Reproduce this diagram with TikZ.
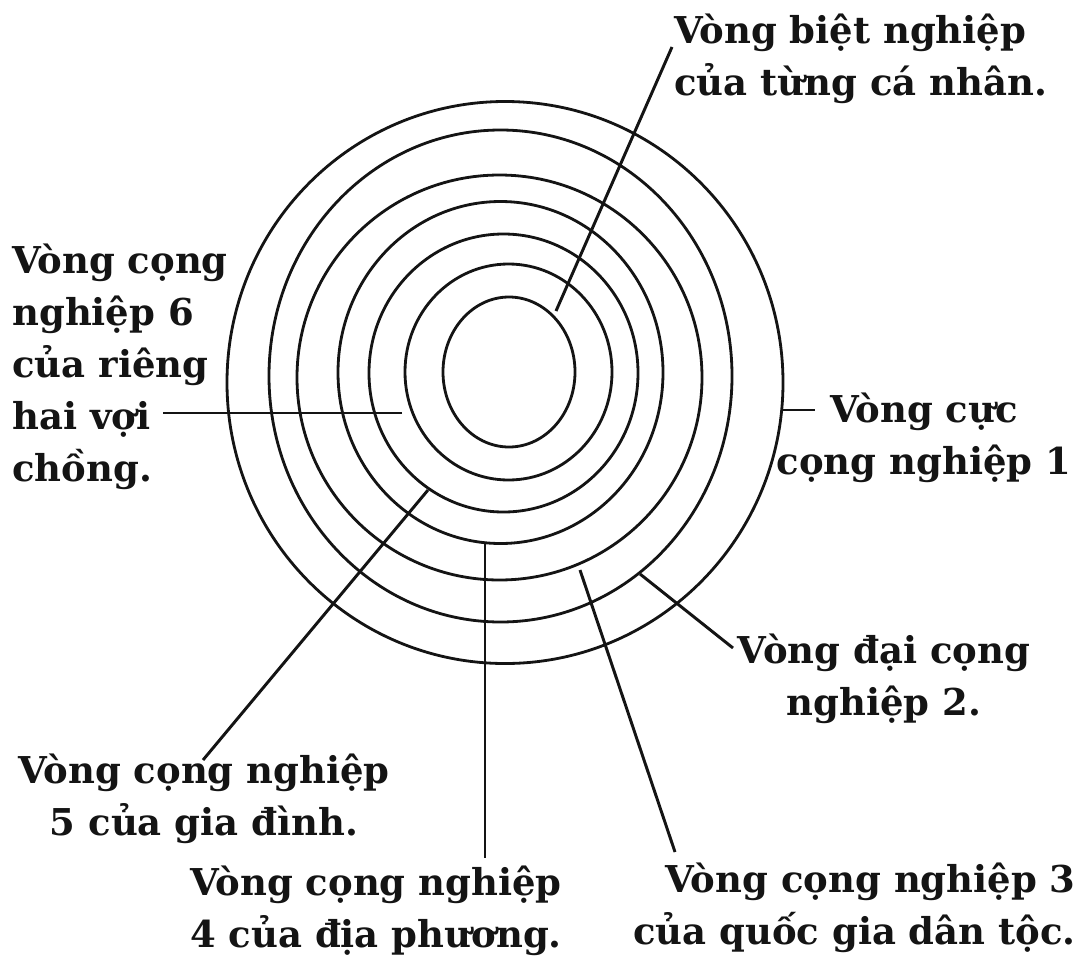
\documentclass[tikz,border=0pt]{standalone}
\usepackage{fontspec}
\usepackage{xcolor}
\usepackage{tikz}
\setmainfont{DejaVu Serif}
\definecolor{ink}{HTML}{141414}
\tikzset{
  ring/.style={draw=ink, line width=2pt},
  lead/.style={draw=ink, line width=2.1pt},
  ringlabel/.style={inner sep=0pt, text=ink, font=\bfseries\fontsize{26.3}{37}\selectfont},
}

\begin{document}
\begin{tikzpicture}[x=0.025cm, y=-0.025cm]
\useasboundingbox (0,0) rectangle (1084,961);

% the seven rings, outer (1) to inner (7)
\foreach \cx/\cy/\rx/\ry in {505/382.5/278/281, 500.5/376/231.5/246, 499.5/377.5/202.5/202.5,
    500.5/372.5/162.5/171, 503.5/373/134.5/139, 508.5/372/103.5/108, 509/372/66/75}
  \draw[ring] (\cx,\cy) ellipse [x radius=\rx, y radius=\ry];

% labels
\node[ringlabel, anchor=north west, align=left] (l7) at (674,14) {Vòng biệt nghiệp\\của từng cá nhân.};
\node[ringlabel, anchor=north west, align=left] (l6) at (12,244) {Vòng cọng\\nghiệp 6\\của riêng\\hai vợi\\chồng.};
\node[ringlabel, anchor=north, align=center] (l1) at (924,393) {Vòng cực\\cọng nghiệp 1};
\node[ringlabel, anchor=north, align=center] (l2) at (884,634) {Vòng đại cọng\\nghiệp 2.};
\node[ringlabel, anchor=north, align=center] (l5) at (204,754) {Vòng cọng nghiệp\\5 của gia đình.};
\node[ringlabel, anchor=north, align=center] (l4) at (376,866) {Vòng cọng nghiệp\\4 của địa phương.};
\node[ringlabel, anchor=north east, align=right] (l3) at (1076,863) {Vòng cọng nghiệp 3\\của quốc gia dân tộc.};

% leader ends
\coordinate (p1) at (783,410); \coordinate (q1) at (815,410);
\coordinate (p2) at (640,574); \coordinate (q2) at (733,648);
\coordinate (p3) at (580,570); \coordinate (q3) at (675,852);
\coordinate (p4) at (485,543); \coordinate (q4) at (485,858);
\coordinate (p5) at (428,490); \coordinate (q5) at (203,760);
\coordinate (p6) at (402,413); \coordinate (q6) at (163,413);
\coordinate (p7) at (556,311); \coordinate (q7) at (672,47);

\foreach \i in {1,...,7}
  \draw[lead] (p\i) -- (q\i);
\end{tikzpicture}
\end{document}
